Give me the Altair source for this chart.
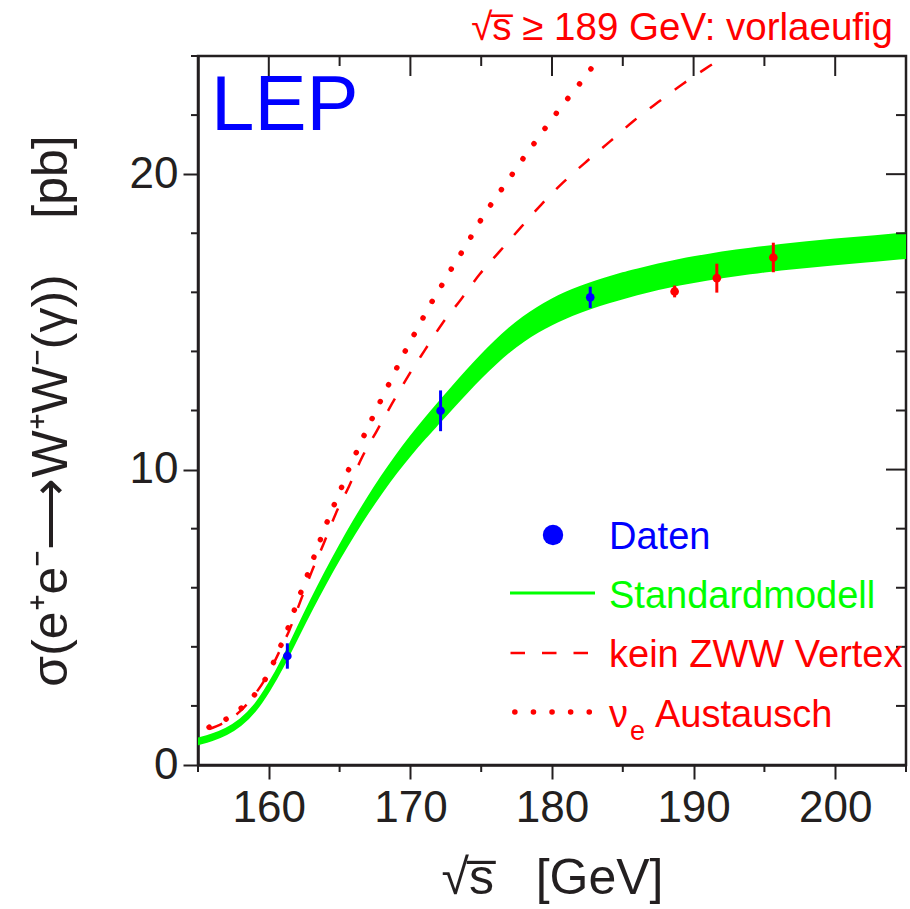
import altair as alt
import pandas as pd

# ---------------- data ----------------
# Standard model band (lower / upper edge)
sm_x = [155, 156, 157, 158, 159, 160, 161, 162, 163, 164, 165, 166, 167, 168, 169, 170,
        171, 172, 173, 174, 175, 176, 177, 178, 179, 180, 181, 182, 183, 184, 185, 186,
        187, 188, 189, 190, 191, 192, 193, 194, 195, 196, 198, 200, 202, 205]
sm_lo = [0.72, 0.85, 1.04, 1.34, 1.80, 2.51, 3.35, 4.33, 5.28, 6.18, 7.03, 7.83, 8.58, 9.28, 9.93, 10.53,
         11.08, 11.60, 12.13, 12.65, 13.15, 13.61, 14.03, 14.39, 14.69, 14.95, 15.17, 15.36, 15.53, 15.68, 15.82, 15.95,
         16.07, 16.18, 16.28, 16.37, 16.45, 16.53, 16.60, 16.66, 16.72, 16.78, 16.88, 16.97, 17.05, 17.18]
sm_hi = [0.88, 1.01, 1.20, 1.50, 1.96, 2.69, 3.55, 4.57, 5.56, 6.50, 7.39, 8.23, 9.02, 9.76, 10.45, 11.09,
         11.68, 12.24, 12.79, 13.33, 13.85, 14.33, 14.77, 15.15, 15.47, 15.75, 15.98, 16.17, 16.34, 16.49, 16.63, 16.75,
         16.87, 16.98, 17.08, 17.17, 17.25, 17.33, 17.40, 17.46, 17.52, 17.58, 17.68, 17.77, 17.85, 17.98]

# no ZWW vertex (dashed)
nozww_x = [155.8, 157.0, 158.0, 159.0, 160.0, 161.0, 161.43, 162.26, 163.01, 163.88, 164.72, 165.66,
           166.58, 167.64, 168.7, 169.85, 171.03, 172.23, 173.57, 174.89, 176.35, 177.8, 179.26,
           180.79, 182.44, 184.08, 185.76, 187.5, 189.26, 191.12, 192.2]
nozww_y = [1.22, 1.48, 1.83, 2.38, 3.12, 4.1, 4.54, 5.58, 6.52, 7.5, 8.5, 9.43,
           10.41, 11.32, 12.23, 13.17, 14.05, 14.93, 15.76, 16.61, 17.41, 18.2, 18.98,
           19.72, 20.43, 21.1, 21.8, 22.44, 23.06, 23.66, 24.0]

# nu_e exchange only (dotted)
nue_x = [155.78, 157.01, 158.11, 159.03, 159.78, 160.35, 160.89, 161.41, 161.83, 162.3, 162.77,
         163.22, 163.69, 164.16, 164.67, 165.2, 165.69, 166.23, 166.79, 167.36, 167.95, 168.54,
         169.12, 169.71, 170.35, 170.98, 171.64, 172.33, 173.0, 173.71, 174.39, 175.08, 175.8,
         176.58, 177.36, 178.11, 178.89, 179.66, 180.48, 181.31, 182.13, 182.93, 183.5]
nue_y = [1.28, 1.56, 1.95, 2.40, 2.93, 3.49, 4.09, 4.70, 5.28, 5.89, 6.49,
         7.08, 7.69, 8.28, 8.87, 9.47, 10.06, 10.63, 11.22, 11.79, 12.38, 12.95,
         13.52, 14.08, 14.65, 15.21, 15.78, 16.33, 16.88, 17.42, 17.97, 18.53, 19.05,
         19.58, 20.11, 20.63, 21.14, 21.65, 22.17, 22.68, 23.17, 23.68, 24.05]

# measurements
lep_x = [161.31, 172.13, 182.7]
lep_y = [3.69, 11.99, 15.83]
lep_err = [0.43, 0.69, 0.36]
prel_x = [188.66, 191.64, 195.63]
prel_y = [16.03, 16.48, 17.18]
prel_err = [0.20, 0.49, 0.50]

x_major = [160, 170, 180, 190, 200]
x_minor = [155, 165, 175, 185, 195, 205]
y_major = [0, 10, 20]
y_minor = [2, 4, 6, 8, 12, 14, 16, 18, 22, 24]

# ---------------- style ----------------
FONT = "Liberation Sans"
DARK = "#231f20"
RED = "#ff0000"
BLUE = "#0000ff"
GREEN = "#00ff00"
W, H = 708, 709
NB = "\u00a0"
SQRT_S = "√s\u0305"

sm_df = pd.DataFrame({"x": sm_x, "lo": sm_lo, "hi": sm_hi})
nozww_df = pd.DataFrame({"x": nozww_x, "y": nozww_y})
nue_df = pd.DataFrame({"x": nue_x, "y": nue_y})
lep_df = pd.DataFrame({"x": lep_x, "y": lep_y,
                       "lo": [a - b for a, b in zip(lep_y, lep_err)],
                       "hi": [a + b for a, b in zip(lep_y, lep_err)]})
prel_df = pd.DataFrame({"x": prel_x, "y": prel_y,
                        "lo": [a - b for a, b in zip(prel_y, prel_err)],
                        "hi": [a + b for a, b in zip(prel_y, prel_err)]})
xmaj_df = pd.DataFrame({"x": x_major})
xmin_df = pd.DataFrame({"x": x_minor})
ymaj_df = pd.DataFrame({"y": y_major})
ymin_df = pd.DataFrame({"y": y_minor})
one = pd.DataFrame({"k": [0]})

xs = alt.Scale(domain=[155, 205], nice=False, zero=False)
ys = alt.Scale(domain=[0, 24], nice=False, zero=False)

x_axis = alt.Axis(values=x_major, format="d", tickSize=14, tickWidth=2, tickColor=DARK,
                  domainColor=DARK, domainWidth=2.5, grid=False,
                  labelFont=FONT, labelFontSize=44, labelColor=DARK, labelPadding=7,
                  labelFlush=False, labelOverlap=False,
                  title=SQRT_S + NB * 3 + "[GeV]", titleFont=FONT, titleFontSize=50,
                  titleFontWeight="normal", titleColor=DARK,
                  titleBaseline="alphabetic", titleY=128)
y_axis = alt.Axis(values=y_major, format="d", tickSize=15, tickWidth=2, tickColor=DARK,
                  domainColor=DARK, domainWidth=2.5, grid=False,
                  labelFont=FONT, labelFontSize=44, labelColor=DARK, labelPadding=5,
                  labelFlush=False, labelOverlap=False,
                  title="σ(e⁺e⁻⟶W⁺W⁻(γ))" + NB * 4 + "[pb]", titleFont=FONT, titleFontSize=50,
                  titleFontWeight="normal", titleColor=DARK, titleAngle=270,
                  titleBaseline="alphabetic", titleX=-132, titleY=H / 2, titleAlign="center")


def X(f):
    return alt.X(f, type="quantitative", scale=xs, axis=x_axis)


def Y(f):
    return alt.Y(f, type="quantitative", scale=ys, axis=y_axis)


band = alt.Chart(sm_df).mark_area(color=GREEN, stroke=GREEN, strokeWidth=3, opacity=1,
                                  interpolate="basis", clip=True).encode(
    x=X("x"), y=Y("lo"), y2="hi")

dashed = alt.Chart(nozww_df).mark_line(color=RED, strokeWidth=2.5, strokeDash=[14, 17],
                                       interpolate="monotone", clip=True).encode(
    x=X("x"), y=Y("y"))

dotted = alt.Chart(nue_df).mark_line(color=RED, strokeWidth=5.5, strokeDash=[0.1, 18.7],
                                     strokeCap="round", interpolate="monotone", clip=True).encode(
    x=X("x"), y=Y("y"))

lep_err_m = alt.Chart(lep_df).mark_rule(color=BLUE, strokeWidth=3).encode(
    x=X("x"), y=Y("lo"), y2="hi")
lep_pts = alt.Chart(lep_df).mark_circle(color=BLUE, size=75, opacity=1).encode(
    x=X("x"), y=Y("y"))
prel_err_m = alt.Chart(prel_df).mark_rule(color=RED, strokeWidth=3).encode(
    x=X("x"), y=Y("lo"), y2="hi")
prel_pts = alt.Chart(prel_df).mark_circle(color=RED, size=75, opacity=1).encode(
    x=X("x"), y=Y("y"))

# mirrored / minor ticks
top_major = alt.Chart(xmaj_df).mark_rule(color=DARK, strokeWidth=2).encode(
    x=X("x"), y=alt.value(0), y2=alt.value(20))
top_minor = alt.Chart(xmin_df).mark_rule(color=DARK, strokeWidth=2).encode(
    x=X("x"), y=alt.value(0), y2=alt.value(10))
bot_minor = alt.Chart(xmin_df).mark_rule(color=DARK, strokeWidth=2).encode(
    x=X("x"), y=alt.value(H), y2=alt.value(H + 7))
right_major = alt.Chart(ymaj_df).mark_rule(color=DARK, strokeWidth=2).encode(
    y=Y("y"), x=alt.value(W - 20), x2=alt.value(W))
right_minor = alt.Chart(ymin_df).mark_rule(color=DARK, strokeWidth=2).encode(
    y=Y("y"), x=alt.value(W - 10), x2=alt.value(W))
left_minor = alt.Chart(ymin_df).mark_rule(color=DARK, strokeWidth=2).encode(
    y=Y("y"), x=alt.value(-7), x2=alt.value(0))

# texts
lep_txt = alt.Chart(one).mark_text(text="LEP", font=FONT, fontSize=78, color=BLUE,
                                   align="left", baseline="alphabetic").encode(
    x=alt.value(13), y=alt.value(74))
prel_txt = alt.Chart(one).mark_text(text=SQRT_S + " ≥ 189 GeV: vorlaeufig", font=FONT, fontSize=38.5,
                                    color=RED, align="right", baseline="alphabetic").encode(
    x=alt.value(695), y=alt.value(-16))

# legend
leg_dot = alt.Chart(one).mark_circle(color=BLUE, size=415, opacity=1).encode(
    x=alt.value(355), y=alt.value(479))
leg_green = alt.Chart(one).mark_rule(color=GREEN, strokeWidth=3).encode(
    x=alt.value(312), x2=alt.value(397), y=alt.value(537))
leg_dash = alt.Chart(one).mark_rule(color=RED, strokeWidth=2.5, strokeDash=[14.5, 17]).encode(
    x=alt.value(312.5), x2=alt.value(390), y=alt.value(597))
leg_dots = alt.Chart(one).mark_rule(color=RED, strokeWidth=5.5, strokeDash=[0.1, 18.5],
                                    strokeCap="round").encode(
    x=alt.value(316.8), x2=alt.value(392), y=alt.value(656))


def legtxt(t, color, x, y, size=38):
    return alt.Chart(one).mark_text(text=t, font=FONT, fontSize=size, color=color,
                                    align="left", baseline="alphabetic", clip=True).encode(
        x=alt.value(x), y=alt.value(y))


leg_texts = [
    legtxt("Daten", BLUE, 411, 493),
    legtxt("Standardmodell", GREEN, 411, 552),
    legtxt("kein ZWW Vertex", RED, 411, 611),
    legtxt("ν", RED, 411, 671),
    legtxt("e", RED, 432, 684, size=27),
    legtxt("Austausch", RED, 457, 671),
]

chart = alt.layer(
    band, dashed, dotted,
    top_major, top_minor, bot_minor, right_major, right_minor, left_minor,
    lep_err_m, lep_pts, prel_err_m, prel_pts,
    lep_txt, prel_txt,
    leg_dot, leg_green, leg_dash, leg_dots, *leg_texts,
).properties(
    width=W, height=H,
    autosize=alt.AutoSizeParams(type="none"),
    padding={"left": 198, "top": 56, "right": 4, "bottom": 144},
    background="white",
).configure_view(stroke=DARK, strokeWidth=2.5)

chart.save("out.html", embed_options={"renderer": "svg", "actions": False})
